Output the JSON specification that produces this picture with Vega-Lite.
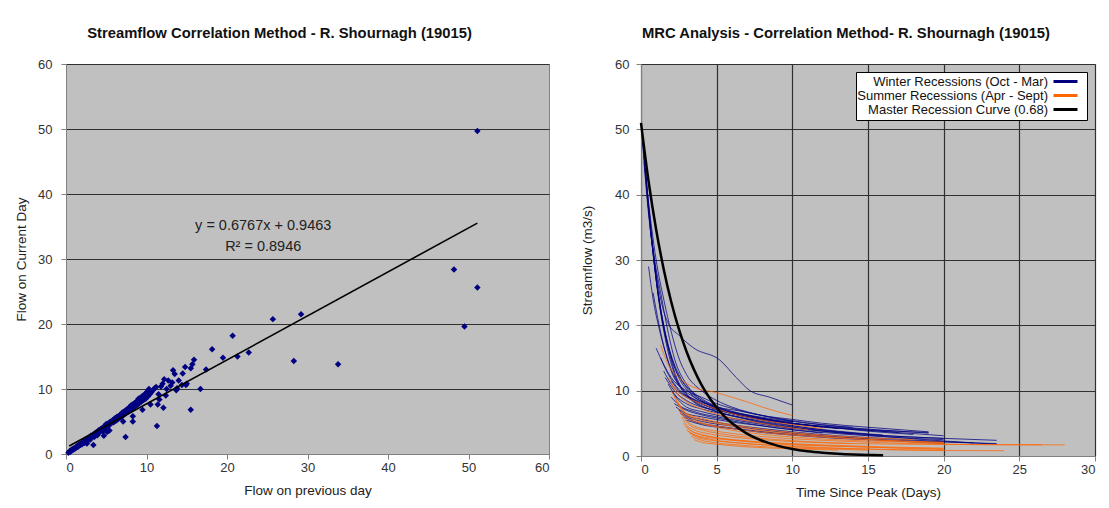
{
"$schema": "https://vega.github.io/schema/vega-lite/v6.json",
"background": "white",
"padding": {"left": 14, "top": 25, "right": 2, "bottom": 5},
"bounds": "flush",
"spacing": 92,
"resolve": {"scale": {"color": "independent"}, "legend": {"color": "independent"}},
"config": {
  "font": "Liberation Sans",
  "view": {"fill": "#C0C0C0", "stroke": "#808080", "strokeWidth": 1},
  "axis": {"labelFont": "Liberation Sans", "labelFontSize": 13, "labelColor": "#333333", "titleFont": "Liberation Sans", "titleFontSize": 13.5, "titleFontWeight": "normal", "titleColor": "#222222", "domainColor": "#808080", "tickColor": "#808080", "tickSize": 5, "gridColor": "#303030", "gridOpacity": 1, "gridWidth": 1.2},
  "axisX": {"labelPadding": 2, "titlePadding": 9},
  "title": {"font": "Liberation Sans", "fontSize": 14.8, "fontWeight": "bold", "color": "#111111", "offset": 17}
},
"datasets": {
  "scatter": [
{"x":0.3,"y":0.2},{"x":0.4,"y":0.35},{"x":0.5,"y":0.3},{"x":0.5,"y":0.45},{"x":0.6,"y":0.5},{"x":0.7,"y":0.55},{"x":0.7,"y":0.65},{"x":0.8,"y":0.6},{"x":0.8,"y":0.75},{"x":0.9,"y":0.7},
{"x":1.0,"y":0.8},{"x":1.0,"y":0.9},{"x":1.1,"y":0.85},{"x":1.2,"y":1.0},{"x":1.2,"y":0.9},{"x":1.3,"y":1.1},{"x":1.4,"y":1.2},{"x":1.5,"y":1.1},{"x":1.5,"y":1.35},{"x":1.6,"y":1.3},
{"x":1.7,"y":1.5},{"x":1.8,"y":1.4},{"x":1.9,"y":1.6},{"x":2.0,"y":1.7},{"x":2.0,"y":1.5},{"x":2.1,"y":1.8},{"x":2.2,"y":1.9},{"x":2.3,"y":1.7},{"x":2.4,"y":2.1},{"x":2.5,"y":2.0},
{"x":2.5,"y":2.3},{"x":2.6,"y":1.6},{"x":2.7,"y":2.3},{"x":2.8,"y":2.5},{"x":2.9,"y":2.4},{"x":3.0,"y":2.6},{"x":3.0,"y":2.2},{"x":3.1,"y":2.8},{"x":3.2,"y":2.7},{"x":3.3,"y":2.9},
{"x":3.4,"y":1.4},{"x":3.4,"y":3.0},{"x":3.5,"y":2.6},{"x":3.6,"y":3.2},{"x":3.7,"y":3.1},{"x":3.8,"y":3.4},{"x":3.9,"y":2.9},{"x":4.0,"y":3.5},{"x":4.0,"y":3.2},{"x":4.1,"y":3.7},
{"x":4.2,"y":3.4},{"x":4.3,"y":3.8},{"x":4.4,"y":3.6},{"x":4.5,"y":4.0},{"x":4.6,"y":3.5},{"x":4.7,"y":4.2},{"x":4.7,"y":2.8},{"x":4.8,"y":3.9},{"x":4.9,"y":4.4},{"x":5.0,"y":4.2},
{"x":5.0,"y":4.6},{"x":5.1,"y":3.4},{"x":5.2,"y":4.6},{"x":5.3,"y":4.3},{"x":5.4,"y":4.9},{"x":5.4,"y":3.6},{"x":5.5,"y":4.7},{"x":5.6,"y":5.0},{"x":5.7,"y":4.8},{"x":5.8,"y":5.2},
{"x":5.9,"y":4.9},{"x":6.0,"y":5.4},{"x":6.0,"y":5.0},{"x":6.1,"y":5.5},{"x":6.2,"y":5.1},{"x":6.3,"y":5.7},{"x":6.4,"y":5.3},{"x":6.5,"y":5.8},{"x":6.6,"y":5.5},{"x":6.7,"y":6.0},
{"x":6.8,"y":5.6},{"x":6.9,"y":6.2},{"x":7.0,"y":5.8},{"x":7.0,"y":6.4},{"x":7.1,"y":5.0},{"x":7.2,"y":6.5},{"x":7.3,"y":6.1},{"x":7.4,"y":6.7},{"x":7.4,"y":2.6},{"x":7.5,"y":6.3},
{"x":7.6,"y":6.9},{"x":7.7,"y":6.5},{"x":7.8,"y":7.1},{"x":7.9,"y":6.6},{"x":8.0,"y":7.3},{"x":8.0,"y":6.8},{"x":8.1,"y":7.5},{"x":8.2,"y":6.9},{"x":8.3,"y":7.6},{"x":8.3,"y":5.0},
{"x":8.3,"y":5.8},{"x":8.4,"y":7.2},{"x":8.5,"y":7.8},{"x":8.6,"y":7.4},{"x":8.7,"y":8.0},{"x":8.8,"y":7.5},{"x":8.9,"y":8.2},{"x":9.0,"y":7.7},{"x":9.0,"y":8.5},{"x":9.1,"y":7.9},
{"x":9.2,"y":8.6},{"x":9.3,"y":8.0},{"x":9.4,"y":8.8},{"x":9.5,"y":8.2},{"x":9.5,"y":6.8},{"x":9.6,"y":9.0},{"x":9.7,"y":8.4},{"x":9.8,"y":9.2},{"x":9.9,"y":8.5},{"x":10.0,"y":9.4},
{"x":10.0,"y":8.8},{"x":10.1,"y":9.6},{"x":10.2,"y":8.9},{"x":10.3,"y":10.0},{"x":10.4,"y":9.2},{"x":10.5,"y":7.6},{"x":10.6,"y":9.5},{"x":10.8,"y":9.8},{"x":11.0,"y":10.1},{"x":11.2,"y":10.3},
{"x":11.3,"y":4.3},{"x":11.4,"y":7.6},{"x":11.5,"y":9.2},{"x":11.6,"y":8.4},{"x":11.8,"y":10.4},{"x":12.0,"y":10.8},{"x":12.1,"y":7.1},{"x":12.2,"y":11.5},{"x":12.4,"y":9.0},{"x":12.5,"y":10.0},
{"x":12.7,"y":11.3},{"x":13.0,"y":10.5},{"x":13.2,"y":11.0},{"x":13.3,"y":12.9},{"x":13.5,"y":12.3},{"x":13.7,"y":9.8},{"x":13.8,"y":10.1},{"x":14.0,"y":11.3},{"x":14.4,"y":10.6},{"x":14.5,"y":12.4},
{"x":14.8,"y":13.4},{"x":14.9,"y":10.6},{"x":15.0,"y":10.8},{"x":15.5,"y":13.2},{"x":15.5,"y":6.8},{"x":15.7,"y":13.8},{"x":15.9,"y":14.5},{"x":16.7,"y":10.0},{"x":17.4,"y":13.0},{"x":18.15,"y":16.1},
{"x":19.5,"y":14.8},{"x":20.7,"y":18.2},{"x":21.3,"y":15.0},{"x":22.7,"y":15.6},{"x":25.7,"y":20.75},{"x":28.3,"y":14.3},{"x":29.2,"y":21.5},{"x":33.8,"y":13.8},{"x":48.2,"y":28.4},{"x":49.5,"y":19.6},
{"x":51.1,"y":25.6},{"x":51.1,"y":49.7}
  ],
  "fit": [{"x":0.4,"y":1.22},{"x":51.1,"y":35.52}],
  "eq": [{"x":24.5,"y":35.1,"label":"y = 0.6767x + 0.9463"},{"x":24.5,"y":31.8,"label":"R² = 0.8946"}],
  "rec": [
{"id":"w1","s":"W","t":0.05,"q":50},{"id":"w1","s":"W","t":0.3,"q":43},{"id":"w1","s":"W","t":0.7,"q":34},{"id":"w1","s":"W","t":1.2,"q":24},{"id":"w1","s":"W","t":1.8,"q":17},{"id":"w1","s":"W","t":2.5,"q":12.5},{"id":"w1","s":"W","t":3.5,"q":9.5},{"id":"w1","s":"W","t":5,"q":7.5},{"id":"w1","s":"W","t":7,"q":6},{"id":"w1","s":"W","t":10,"q":5},{"id":"w1","s":"W","t":13,"q":4.4},{"id":"w1","s":"W","t":16,"q":3.9},{"id":"w1","s":"W","t":19,"q":3.6},
{"id":"w2","s":"W","t":0.1,"q":48},{"id":"w2","s":"W","t":0.4,"q":40},{"id":"w2","s":"W","t":0.8,"q":31},{"id":"w2","s":"W","t":1.3,"q":22},{"id":"w2","s":"W","t":2,"q":15},{"id":"w2","s":"W","t":3,"q":10.5},{"id":"w2","s":"W","t":4,"q":8.5},{"id":"w2","s":"W","t":6,"q":6.5},{"id":"w2","s":"W","t":8,"q":5.5},{"id":"w2","s":"W","t":11,"q":4.3},{"id":"w2","s":"W","t":15,"q":3.3},{"id":"w2","s":"W","t":20,"q":2.7},{"id":"w2","s":"W","t":23.5,"q":2.4},
{"id":"w3","s":"W","t":0.2,"q":46},{"id":"w3","s":"W","t":0.5,"q":38},{"id":"w3","s":"W","t":0.9,"q":29},{"id":"w3","s":"W","t":1.5,"q":20},{"id":"w3","s":"W","t":2.2,"q":13},{"id":"w3","s":"W","t":3,"q":9.5},{"id":"w3","s":"W","t":4.5,"q":7.2},{"id":"w3","s":"W","t":6,"q":6.2},{"id":"w3","s":"W","t":9,"q":4.8},{"id":"w3","s":"W","t":12,"q":3.8},{"id":"w3","s":"W","t":16,"q":3},{"id":"w3","s":"W","t":20,"q":2.3},{"id":"w3","s":"W","t":23.5,"q":1.8},
{"id":"w4","s":"W","t":0.3,"q":44},{"id":"w4","s":"W","t":0.6,"q":36},{"id":"w4","s":"W","t":1,"q":27},{"id":"w4","s":"W","t":1.6,"q":18},{"id":"w4","s":"W","t":2.3,"q":12},{"id":"w4","s":"W","t":3.2,"q":8.8},{"id":"w4","s":"W","t":5,"q":6.8},{"id":"w4","s":"W","t":7,"q":5.6},{"id":"w4","s":"W","t":10,"q":4.2},
{"id":"w5","s":"W","t":0.5,"q":29},{"id":"w5","s":"W","t":0.8,"q":24},{"id":"w5","s":"W","t":1.2,"q":19.5},{"id":"w5","s":"W","t":1.8,"q":14.5},{"id":"w5","s":"W","t":2.5,"q":11},{"id":"w5","s":"W","t":3.5,"q":9},{"id":"w5","s":"W","t":5,"q":7.5},{"id":"w5","s":"W","t":7,"q":6.2},{"id":"w5","s":"W","t":10,"q":5.2},
{"id":"w6","s":"W","t":0.6,"q":35},{"id":"w6","s":"W","t":1,"q":28},{"id":"w6","s":"W","t":1.4,"q":23},{"id":"w6","s":"W","t":1.8,"q":20.3},{"id":"w6","s":"W","t":2.5,"q":18.5},{"id":"w6","s":"W","t":3.5,"q":16.5},{"id":"w6","s":"W","t":5.2,"q":14.7},{"id":"w6","s":"W","t":6.3,"q":12},{"id":"w6","s":"W","t":7.2,"q":10},{"id":"w6","s":"W","t":8.5,"q":9},{"id":"w6","s":"W","t":10,"q":7.8},
{"id":"w7","s":"W","t":1,"q":16.5},{"id":"w7","s":"W","t":1.5,"q":14},{"id":"w7","s":"W","t":2,"q":12},{"id":"w7","s":"W","t":3,"q":10},{"id":"w7","s":"W","t":4,"q":9},{"id":"w7","s":"W","t":5,"q":8},{"id":"w7","s":"W","t":6,"q":7.3},{"id":"w7","s":"W","t":8,"q":6.2},{"id":"w7","s":"W","t":10,"q":5.6},{"id":"w7","s":"W","t":12,"q":5},{"id":"w7","s":"W","t":15,"q":4.4},{"id":"w7","s":"W","t":19,"q":3.7},
{"id":"w8","s":"W","t":1.5,"q":13},{"id":"w8","s":"W","t":2,"q":11},{"id":"w8","s":"W","t":3,"q":9},{"id":"w8","s":"W","t":4,"q":8},{"id":"w8","s":"W","t":6,"q":6.5},{"id":"w8","s":"W","t":8,"q":5.7},{"id":"w8","s":"W","t":10,"q":5},{"id":"w8","s":"W","t":13,"q":4.3},{"id":"w8","s":"W","t":17,"q":3.6},{"id":"w8","s":"W","t":20,"q":3.1},
{"id":"w9","s":"W","t":1.6,"q":12},{"id":"w9","s":"W","t":2.2,"q":10},{"id":"w9","s":"W","t":3,"q":8.5},{"id":"w9","s":"W","t":4,"q":7.5},{"id":"w9","s":"W","t":5,"q":7},{"id":"w9","s":"W","t":7,"q":6},{"id":"w9","s":"W","t":9,"q":5.2},{"id":"w9","s":"W","t":12,"q":4.5},{"id":"w9","s":"W","t":15,"q":3.8},{"id":"w9","s":"W","t":18,"q":3.3},
{"id":"w10","s":"W","t":1.8,"q":11},{"id":"w10","s":"W","t":2.2,"q":9.5},{"id":"w10","s":"W","t":3,"q":8},{"id":"w10","s":"W","t":4,"q":7.2},{"id":"w10","s":"W","t":6,"q":6.2},{"id":"w10","s":"W","t":8,"q":5.3},{"id":"w10","s":"W","t":10,"q":4.6},{"id":"w10","s":"W","t":13,"q":3.8},{"id":"w10","s":"W","t":16,"q":3.2},
{"id":"w11","s":"W","t":2,"q":10},{"id":"w11","s":"W","t":2.5,"q":8.5},{"id":"w11","s":"W","t":3,"q":7.5},{"id":"w11","s":"W","t":4,"q":6.8},{"id":"w11","s":"W","t":6,"q":5.8},{"id":"w11","s":"W","t":8,"q":5},{"id":"w11","s":"W","t":10,"q":4.4},{"id":"w11","s":"W","t":12,"q":3.9},{"id":"w11","s":"W","t":15,"q":3.3},{"id":"w11","s":"W","t":20,"q":2.7},
{"id":"w12","s":"W","t":2,"q":9},{"id":"w12","s":"W","t":2.5,"q":7.8},{"id":"w12","s":"W","t":3.5,"q":6.8},{"id":"w12","s":"W","t":5,"q":6},{"id":"w12","s":"W","t":7,"q":5.2},{"id":"w12","s":"W","t":9,"q":4.5},{"id":"w12","s":"W","t":11,"q":4},{"id":"w12","s":"W","t":14,"q":3.4},
{"id":"w13","s":"W","t":2.2,"q":8},{"id":"w13","s":"W","t":3,"q":7},{"id":"w13","s":"W","t":4,"q":6.3},{"id":"w13","s":"W","t":5,"q":5.8},{"id":"w13","s":"W","t":7,"q":5},{"id":"w13","s":"W","t":9,"q":4.3},{"id":"w13","s":"W","t":12,"q":3.6},{"id":"w13","s":"W","t":15,"q":3.1},{"id":"w13","s":"W","t":18,"q":2.7},{"id":"w13","s":"W","t":20,"q":2.5},
{"id":"w14","s":"W","t":2.3,"q":7.5},{"id":"w14","s":"W","t":3,"q":6.5},{"id":"w14","s":"W","t":4,"q":6},{"id":"w14","s":"W","t":6,"q":5.2},{"id":"w14","s":"W","t":8,"q":4.6},{"id":"w14","s":"W","t":10,"q":4},{"id":"w14","s":"W","t":12,"q":3.5},
{"id":"w15","s":"W","t":2.5,"q":7},{"id":"w15","s":"W","t":3,"q":6.2},{"id":"w15","s":"W","t":4,"q":5.6},{"id":"w15","s":"W","t":6,"q":4.8},{"id":"w15","s":"W","t":8,"q":4.2},{"id":"w15","s":"W","t":10,"q":3.7},{"id":"w15","s":"W","t":13,"q":3.1},{"id":"w15","s":"W","t":16,"q":2.7},{"id":"w15","s":"W","t":20,"q":2.2},{"id":"w15","s":"W","t":22,"q":2},
{"id":"w16","s":"W","t":2.6,"q":6.5},{"id":"w16","s":"W","t":3.2,"q":5.8},{"id":"w16","s":"W","t":4,"q":5.3},{"id":"w16","s":"W","t":6,"q":4.6},{"id":"w16","s":"W","t":8,"q":4},{"id":"w16","s":"W","t":10,"q":3.5},{"id":"w16","s":"W","t":12,"q":3.1},{"id":"w16","s":"W","t":15,"q":2.6},
{"id":"w17","s":"W","t":0.1,"q":49},{"id":"w17","s":"W","t":0.4,"q":41},{"id":"w17","s":"W","t":0.7,"q":35},{"id":"w17","s":"W","t":1,"q":30},{"id":"w17","s":"W","t":1.5,"q":24},{"id":"w17","s":"W","t":2,"q":19},{"id":"w17","s":"W","t":2.5,"q":15},{"id":"w17","s":"W","t":3,"q":12.5},{"id":"w17","s":"W","t":4,"q":10},{"id":"w17","s":"W","t":5,"q":8.5},{"id":"w17","s":"W","t":6,"q":7.5},{"id":"w17","s":"W","t":8,"q":6.2},{"id":"w17","s":"W","t":10,"q":5.3},
{"id":"w18","s":"W","t":0.2,"q":45},{"id":"w18","s":"W","t":0.5,"q":37},{"id":"w18","s":"W","t":0.9,"q":30},{"id":"w18","s":"W","t":1.3,"q":25},{"id":"w18","s":"W","t":1.7,"q":20},{"id":"w18","s":"W","t":2.2,"q":15},{"id":"w18","s":"W","t":3,"q":11},{"id":"w18","s":"W","t":4,"q":8.8},{"id":"w18","s":"W","t":5,"q":7.6},{"id":"w18","s":"W","t":7,"q":6.3},{"id":"w18","s":"W","t":9,"q":5.3},{"id":"w18","s":"W","t":11,"q":4.7},{"id":"w18","s":"W","t":14,"q":4.1},{"id":"w18","s":"W","t":17,"q":3.6},
{"id":"w19","s":"W","t":0.8,"q":25},{"id":"w19","s":"W","t":1.2,"q":20},{"id":"w19","s":"W","t":1.6,"q":16},{"id":"w19","s":"W","t":2,"q":13},{"id":"w19","s":"W","t":2.8,"q":10},{"id":"w19","s":"W","t":4,"q":8},{"id":"w19","s":"W","t":5.5,"q":6.8},{"id":"w19","s":"W","t":7.5,"q":5.8},{"id":"w19","s":"W","t":10,"q":5},{"id":"w19","s":"W","t":12,"q":4.4},
{"id":"w20","s":"W","t":1.3,"q":15},{"id":"w20","s":"W","t":1.8,"q":12.5},{"id":"w20","s":"W","t":2.5,"q":10.2},{"id":"w20","s":"W","t":3.5,"q":8.5},{"id":"w20","s":"W","t":5,"q":7.2},{"id":"w20","s":"W","t":7,"q":6.3},{"id":"w20","s":"W","t":9,"q":5.6},{"id":"w20","s":"W","t":11,"q":5},{"id":"w20","s":"W","t":14,"q":4.3},{"id":"w20","s":"W","t":17,"q":3.8},{"id":"w20","s":"W","t":19,"q":3.5},
{"id":"w21","s":"W","t":2.8,"q":6},{"id":"w21","s":"W","t":3.5,"q":5.3},{"id":"w21","s":"W","t":5,"q":4.6},{"id":"w21","s":"W","t":7,"q":4},{"id":"w21","s":"W","t":9,"q":3.5},{"id":"w21","s":"W","t":12,"q":3},{"id":"w21","s":"W","t":15,"q":2.6},{"id":"w21","s":"W","t":18,"q":2.3},{"id":"w21","s":"W","t":23.5,"q":1.9},
{"id":"w22","s":"W","t":3,"q":5.5},{"id":"w22","s":"W","t":4,"q":4.8},{"id":"w22","s":"W","t":6,"q":4.2},{"id":"w22","s":"W","t":8,"q":3.6},{"id":"w22","s":"W","t":10,"q":3.2},{"id":"w22","s":"W","t":13,"q":2.7},{"id":"w22","s":"W","t":16,"q":2.4},{"id":"w22","s":"W","t":20,"q":1.9},
{"id":"w23","s":"W","t":0.4,"q":40},{"id":"w23","s":"W","t":0.7,"q":33},{"id":"w23","s":"W","t":1,"q":27},{"id":"w23","s":"W","t":1.4,"q":21},{"id":"w23","s":"W","t":1.9,"q":16},{"id":"w23","s":"W","t":2.5,"q":12},{"id":"w23","s":"W","t":3.3,"q":9.5},{"id":"w23","s":"W","t":4.5,"q":7.8},{"id":"w23","s":"W","t":6,"q":6.7},{"id":"w23","s":"W","t":8,"q":5.8},{"id":"w23","s":"W","t":10,"q":5},{"id":"w23","s":"W","t":13,"q":4.2},
{"id":"w24","s":"W","t":2,"q":11.5},{"id":"w24","s":"W","t":2.5,"q":10},{"id":"w24","s":"W","t":3.5,"q":8.7},{"id":"w24","s":"W","t":5,"q":7.5},{"id":"w24","s":"W","t":6.5,"q":6.9},{"id":"w24","s":"W","t":8,"q":6.2},{"id":"w24","s":"W","t":10,"q":5.4},{"id":"w24","s":"W","t":12,"q":4.8},{"id":"w24","s":"W","t":14,"q":4.4},
{"id":"s1","s":"S","t":1.3,"q":17},{"id":"s1","s":"S","t":1.8,"q":14},{"id":"s1","s":"S","t":2.5,"q":12},{"id":"s1","s":"S","t":3.5,"q":10.5},{"id":"s1","s":"S","t":5,"q":9.7},{"id":"s1","s":"S","t":6,"q":9},{"id":"s1","s":"S","t":7,"q":8.3},{"id":"s1","s":"S","t":8,"q":7.5},{"id":"s1","s":"S","t":9,"q":6.8},{"id":"s1","s":"S","t":10,"q":6.2},
{"id":"s2","s":"S","t":2,"q":10},{"id":"s2","s":"S","t":2.5,"q":8},{"id":"s2","s":"S","t":3,"q":6.5},{"id":"s2","s":"S","t":4,"q":5.5},{"id":"s2","s":"S","t":5,"q":5},{"id":"s2","s":"S","t":7,"q":4.2},{"id":"s2","s":"S","t":9,"q":3.6},{"id":"s2","s":"S","t":11,"q":3.2},{"id":"s2","s":"S","t":14,"q":2.7},{"id":"s2","s":"S","t":17,"q":2.3},{"id":"s2","s":"S","t":20,"q":2},
{"id":"s3","s":"S","t":2.5,"q":7},{"id":"s3","s":"S","t":3,"q":5.5},{"id":"s3","s":"S","t":3.5,"q":4.6},{"id":"s3","s":"S","t":5,"q":3.8},{"id":"s3","s":"S","t":7,"q":3.2},{"id":"s3","s":"S","t":9,"q":2.8},{"id":"s3","s":"S","t":12,"q":2.4},{"id":"s3","s":"S","t":15,"q":2.1},{"id":"s3","s":"S","t":20,"q":1.8},{"id":"s3","s":"S","t":26.5,"q":1.7},
{"id":"s4","s":"S","t":2.7,"q":6},{"id":"s4","s":"S","t":3,"q":4.8},{"id":"s4","s":"S","t":3.5,"q":4},{"id":"s4","s":"S","t":4.5,"q":3.4},{"id":"s4","s":"S","t":6,"q":2.9},{"id":"s4","s":"S","t":8,"q":2.5},{"id":"s4","s":"S","t":11,"q":2.1},{"id":"s4","s":"S","t":14,"q":1.9},{"id":"s4","s":"S","t":18,"q":1.8},{"id":"s4","s":"S","t":22,"q":1.75},{"id":"s4","s":"S","t":28,"q":1.7},
{"id":"s5","s":"S","t":2.8,"q":5},{"id":"s5","s":"S","t":3.2,"q":4},{"id":"s5","s":"S","t":4,"q":3.3},{"id":"s5","s":"S","t":5,"q":2.8},{"id":"s5","s":"S","t":7,"q":2.3},{"id":"s5","s":"S","t":9,"q":2},{"id":"s5","s":"S","t":12,"q":1.7},{"id":"s5","s":"S","t":16,"q":1.4},{"id":"s5","s":"S","t":20,"q":1.2},
{"id":"s6","s":"S","t":3,"q":4.5},{"id":"s6","s":"S","t":3.5,"q":3.6},{"id":"s6","s":"S","t":4.5,"q":3},{"id":"s6","s":"S","t":6,"q":2.5},{"id":"s6","s":"S","t":8,"q":2.1},{"id":"s6","s":"S","t":10,"q":1.8},{"id":"s6","s":"S","t":13,"q":1.5},{"id":"s6","s":"S","t":17,"q":1.2},{"id":"s6","s":"S","t":20,"q":1},
{"id":"s7","s":"S","t":3,"q":4},{"id":"s7","s":"S","t":3.5,"q":3.2},{"id":"s7","s":"S","t":4.5,"q":2.6},{"id":"s7","s":"S","t":6,"q":2.1},{"id":"s7","s":"S","t":8,"q":1.7},{"id":"s7","s":"S","t":10,"q":1.4},{"id":"s7","s":"S","t":14,"q":1.1},{"id":"s7","s":"S","t":18,"q":0.9},{"id":"s7","s":"S","t":24,"q":0.8},
{"id":"s8","s":"S","t":3.2,"q":3.5},{"id":"s8","s":"S","t":3.8,"q":2.8},{"id":"s8","s":"S","t":5,"q":2.3},{"id":"s8","s":"S","t":7,"q":1.9},{"id":"s8","s":"S","t":9,"q":1.6},{"id":"s8","s":"S","t":12,"q":1.3},{"id":"s8","s":"S","t":16,"q":1},{"id":"s8","s":"S","t":20,"q":0.85},
{"id":"s9","s":"S","t":3.3,"q":3},{"id":"s9","s":"S","t":4,"q":2.4},{"id":"s9","s":"S","t":5,"q":2},{"id":"s9","s":"S","t":7,"q":1.6},{"id":"s9","s":"S","t":9,"q":1.3},{"id":"s9","s":"S","t":12,"q":1.1},{"id":"s9","s":"S","t":15,"q":0.9},
{"id":"s10","s":"S","t":3.5,"q":2.5},{"id":"s10","s":"S","t":4,"q":2.1},{"id":"s10","s":"S","t":5,"q":1.8},{"id":"s10","s":"S","t":7,"q":1.4},{"id":"s10","s":"S","t":10,"q":1.1},{"id":"s10","s":"S","t":13,"q":0.9},
{"id":"s11","s":"S","t":2.2,"q":9},{"id":"s11","s":"S","t":2.6,"q":7.5},{"id":"s11","s":"S","t":3,"q":6.5},{"id":"s11","s":"S","t":4,"q":5.8},{"id":"s11","s":"S","t":5,"q":5.2},{"id":"s11","s":"S","t":6.5,"q":4.6},{"id":"s11","s":"S","t":8,"q":4.1},{"id":"s11","s":"S","t":10,"q":3.6},{"id":"s11","s":"S","t":12,"q":3.2},{"id":"s11","s":"S","t":15,"q":2.8},{"id":"s11","s":"S","t":18,"q":2.5},
{"id":"s12","s":"S","t":2.3,"q":8.5},{"id":"s12","s":"S","t":2.7,"q":7},{"id":"s12","s":"S","t":3.2,"q":6},{"id":"s12","s":"S","t":4,"q":5.1},{"id":"s12","s":"S","t":5.5,"q":4.4},{"id":"s12","s":"S","t":7,"q":3.9},{"id":"s12","s":"S","t":9,"q":3.4},{"id":"s12","s":"S","t":12,"q":2.9},{"id":"s12","s":"S","t":16,"q":2.4},{"id":"s12","s":"S","t":20,"q":2.1},
{"id":"s13","s":"S","t":1.8,"q":12},{"id":"s13","s":"S","t":2.2,"q":10.5},{"id":"s13","s":"S","t":3,"q":9},{"id":"s13","s":"S","t":4,"q":8},{"id":"s13","s":"S","t":5,"q":7.2},{"id":"s13","s":"S","t":6,"q":6.5},{"id":"s13","s":"S","t":8,"q":5.5},{"id":"s13","s":"S","t":10,"q":4.8},{"id":"s13","s":"S","t":12,"q":4.2},
{"id":"s14","s":"S","t":2.6,"q":6.8},{"id":"s14","s":"S","t":3,"q":5.9},{"id":"s14","s":"S","t":4,"q":5},{"id":"s14","s":"S","t":5,"q":4.4},{"id":"s14","s":"S","t":7,"q":3.6},{"id":"s14","s":"S","t":9,"q":3.1},{"id":"s14","s":"S","t":12,"q":2.6},{"id":"s14","s":"S","t":15,"q":2.3},{"id":"s14","s":"S","t":18,"q":2.1},{"id":"s14","s":"S","t":20,"q":1.9},
{"id":"s15","s":"S","t":2.9,"q":5.5},{"id":"s15","s":"S","t":3.3,"q":4.6},{"id":"s15","s":"S","t":4,"q":4},{"id":"s15","s":"S","t":5,"q":3.5},{"id":"s15","s":"S","t":7,"q":2.9},{"id":"s15","s":"S","t":9,"q":2.5},{"id":"s15","s":"S","t":11,"q":2.2},{"id":"s15","s":"S","t":14,"q":1.9},
{"id":"s16","s":"S","t":3.1,"q":3.8},{"id":"s16","s":"S","t":3.6,"q":3.2},{"id":"s16","s":"S","t":4.5,"q":2.8},{"id":"s16","s":"S","t":6,"q":2.4},{"id":"s16","s":"S","t":8,"q":2},{"id":"s16","s":"S","t":10,"q":1.7},{"id":"s16","s":"S","t":13,"q":1.5},{"id":"s16","s":"S","t":16,"q":1.3},{"id":"s16","s":"S","t":20,"q":1.1},
{"id":"s17","s":"S","t":2,"q":11},{"id":"s17","s":"S","t":2.4,"q":9.5},{"id":"s17","s":"S","t":3,"q":8.3},{"id":"s17","s":"S","t":4,"q":7.2},{"id":"s17","s":"S","t":5,"q":6.4},{"id":"s17","s":"S","t":6,"q":5.8},{"id":"s17","s":"S","t":7,"q":5.4},{"id":"s17","s":"S","t":9,"q":4.6},{"id":"s17","s":"S","t":11,"q":4}
  ],
  "mrc": [
{"s":"M","t":0,"q":51},{"s":"M","t":0.5,"q":42.06},{"s":"M","t":1,"q":34.68},{"s":"M","t":1.5,"q":28.6},{"s":"M","t":2,"q":23.58},{"s":"M","t":2.5,"q":19.45},{"s":"M","t":3,"q":16.04},{"s":"M","t":3.5,"q":13.22},{"s":"M","t":4,"q":10.9},{"s":"M","t":4.5,"q":8.99},{"s":"M","t":5,"q":7.42},{"s":"M","t":5.5,"q":6.12},{"s":"M","t":6,"q":5.04},{"s":"M","t":7,"q":3.43},{"s":"M","t":8,"q":2.33},{"s":"M","t":9,"q":1.59},{"s":"M","t":10,"q":1.08},{"s":"M","t":11,"q":0.73},{"s":"M","t":12,"q":0.5},{"s":"M","t":13,"q":0.34},{"s":"M","t":14,"q":0.23},{"s":"M","t":15,"q":0.16},{"s":"M","t":16,"q":0.11}
  ]
},
"hconcat": [
  {
    "width": 483, "height": 390,
    "title": {"text": "Streamflow Correlation Method - R. Shournagh (19015)", "dx": -28},
    "layer": [
      {
        "data": {"name": "scatter"},
        "mark": {"type": "point", "shape": "diamond", "filled": true, "size": 42, "color": "#000080", "opacity": 1},
        "encoding": {
          "x": {"field": "x", "type": "quantitative", "scale": {"domain": [0, 60], "nice": false}, "axis": {"title": "Flow on previous day", "values": [0,10,20,30,40,50,60], "grid": false}},
          "y": {"field": "y", "type": "quantitative", "scale": {"domain": [0, 60], "nice": false}, "axis": {"title": "Flow on Current Day", "values": [0,10,20,30,40,50,60], "grid": true, "labelPadding": 9, "titlePadding": 9}}
        }
      },
      {
        "data": {"name": "fit"},
        "mark": {"type": "line", "color": "black", "strokeWidth": 1.6},
        "encoding": {
          "x": {"field": "x", "type": "quantitative"},
          "y": {"field": "y", "type": "quantitative"}
        }
      },
      {
        "data": {"name": "eq"},
        "mark": {"type": "text", "fontSize": 14.5, "color": "#222222", "align": "center", "baseline": "middle"},
        "encoding": {
          "x": {"field": "x", "type": "quantitative"},
          "y": {"field": "y", "type": "quantitative"},
          "text": {"field": "label"}
        }
      }
    ]
  },
  {
    "width": 454, "height": 392,
    "title": {"text": "MRC Analysis - Correlation Method- R. Shournagh (19015)", "dx": -22},
    "layer": [
      {
        "data": {"name": "rec"},
        "mark": {"type": "line", "strokeWidth": 1, "opacity": 0.75, "interpolate": "monotone"},
        "encoding": {
          "x": {"field": "t", "type": "quantitative", "scale": {"domain": [0, 30], "nice": false}, "axis": {"title": "Time Since Peak (Days)", "values": [0,5,10,15,20,25,30], "grid": true}},
          "y": {"field": "q", "type": "quantitative", "scale": {"domain": [0, 60], "nice": false}, "axis": {"title": "Streamflow (m3/s)", "values": [0,10,20,30,40,50,60], "grid": true, "labelPadding": 7, "titlePadding": 20}},
          "detail": {"field": "id"},
          "color": {"field": "s", "type": "nominal",
            "scale": {"domain": ["W", "S", "M"], "range": ["#000080", "#FF6600", "#000000"]},
            "legend": {"title": null, "orient": "top-right", "offset": 8, "fillColor": "white", "strokeColor": "black", "padding": 3,
              "labelFont": "Liberation Sans", "labelFontSize": 13, "labelColor": "#111111", "labelLimit": 400, "labelAlign": "right",
              "labelExpr": "datum.label == 'W' ? 'Winter Recessions (Oct - Mar)' : datum.label == 'S' ? 'Summer Recessions (Apr - Sept)' : 'Master Recession Curve (0.68)'",
              "symbolType": "M-4,0H4", "symbolSize": 36, "symbolStrokeWidth": 3, "symbolOpacity": 1, "symbolOffset": 200, "labelOffset": -24, "rowPadding": -5}
          }
        }
      },
      {
        "data": {"name": "mrc"},
        "mark": {"type": "line", "strokeWidth": 2.5, "interpolate": "monotone"},
        "encoding": {
          "x": {"field": "t", "type": "quantitative"},
          "y": {"field": "q", "type": "quantitative"},
          "color": {"field": "s", "type": "nominal"}
        }
      }
    ]
  }
]
}
